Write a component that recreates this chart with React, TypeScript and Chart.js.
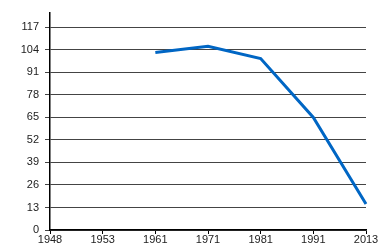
import React, { useEffect, useRef } from "react";
import { Chart, registerables } from "chart.js";

Chart.register(...registerables);

const years = ["1948", "1953", "1961", "1971", "1981", "1991", "2013"];
const values: (number | null)[] = [null, null, 102.5, 106, 99, 65, 15];
const yTicks = [0, 13, 26, 39, 52, 65, 78, 91, 104, 117];

export default function App() {
  const ref = useRef<HTMLCanvasElement>(null);
  useEffect(() => {
    document.body.style.margin = "0";
    const chart = new Chart(ref.current!, {
      type: "line",
      data: {
        labels: years,
        datasets: [
          {
            data: values,
            borderColor: "#0066c4",
            borderWidth: 3,
            pointRadius: 0,
            fill: false,
            tension: 0,
          },
        ],
      },
      options: {
        animation: false,
        responsive: false,
        maintainAspectRatio: false,
        layout: { padding: { top: 10, right: 14, left: 0, bottom: 0 } },
        plugins: { legend: { display: false }, tooltip: { enabled: false } },
        scales: {
          x: {
            type: "category",
            offset: false,
            grid: {
              display: true,
              drawOnChartArea: false,
              drawTicks: true,
              tickLength: 4,
              color: "#000",
            },
            border: { color: "#000", width: 1.5 },
            ticks: {
              color: "#222",
              font: { family: "Liberation Sans, Arial, sans-serif", size: 11 },
              padding: -1,
              maxRotation: 0,
              autoSkip: false,
            },
            afterFit: (s: any) => {
              s.height = 20;
            },
          },
          y: {
            min: 0,
            max: 125.5,
            afterBuildTicks: (s: any) => {
              s.ticks = yTicks.map((v) => ({ value: v }));
            },
            grid: {
              color: "#444",
              lineWidth: 1,
              drawTicks: true,
              tickLength: 5,
            },
            border: { color: "#000", width: 1.5 },
            ticks: {
              color: "#222",
              font: { family: "Liberation Sans, Arial, sans-serif", size: 11 },
              padding: 6,
            },
            afterFit: (s: any) => {
              s.width = 50;
            },
          },
        },
      },
    });
    return () => chart.destroy();
  }, []);
  return (
    <div style={{ position: "relative", width: 380, height: 250, background: "#fff" }}>
      <canvas ref={ref} width={380} height={250} style={{ width: 380, height: 250 }} />
    </div>
  );
}
